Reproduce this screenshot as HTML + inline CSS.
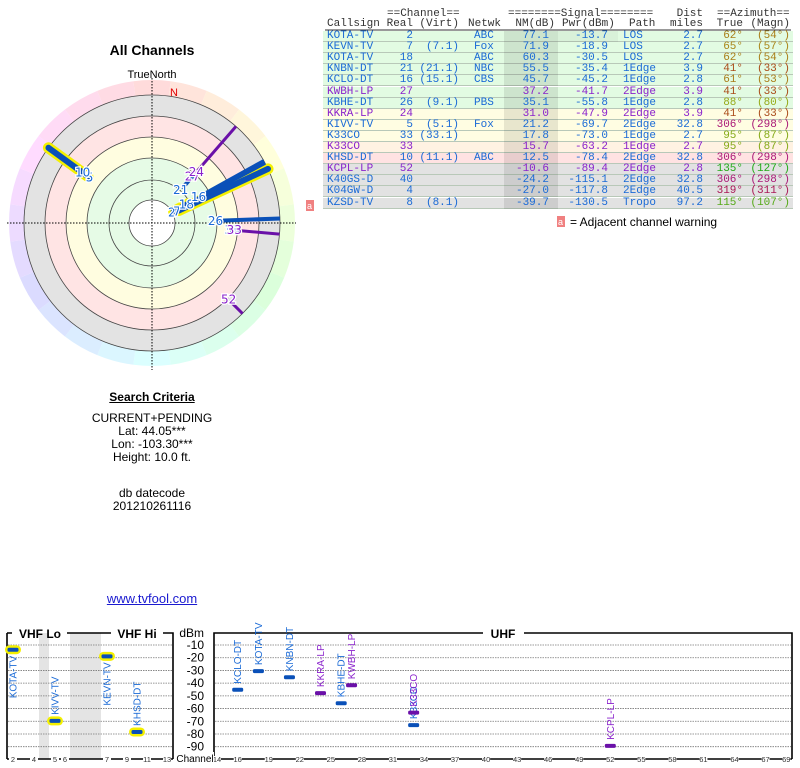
<!DOCTYPE html>
<html><head><meta charset="utf-8"><style>
html,body{margin:0;padding:0;background:#fff;width:800px;height:768px;overflow:hidden;position:relative;font-family:"Liberation Sans",sans-serif}
.abs{position:absolute;white-space:pre}
.ctr{position:absolute;width:300px;left:2px;text-align:center;font-size:12px;color:#000}
.mono{font-family:"Liberation Mono",monospace;font-size:11px}
</style></head><body>
<div class="ctr" style="top:42px;font-size:14px;font-weight:bold">All Channels</div>
<div class="ctr" style="top:390px;font-weight:bold;"><span style="text-decoration:underline">Search Criteria</span></div>
<div class="ctr" style="top:412px;line-height:13px">CURRENT+PENDING<br>Lat: 44.05***<br>Lon: -103.30***<br>Height: 10.0 ft.</div>
<div class="ctr" style="top:487px;line-height:13px">db datecode<br>201210261116</div>
<div class="ctr" style="top:591px;font-size:13px;color:#1a1ad0;"><span style="text-decoration:underline">www.tvfool.com</span></div>

<svg id="gfx" width="800" height="768" style="position:absolute;left:0;top:0" xmlns="http://www.w3.org/2000/svg"></svg>
<div id="tbl"></div>

<script>
const callsigns=["KOTA-TV","KEVN-TV","KOTA-TV","KNBN-DT","KCLO-DT","KWBH-LP","KBHE-DT","KKRA-LP","KIVV-TV","K33CO","K33CO","KHSD-DT","KCPL-LP","K40GS-D","K04GW-D","KZSD-TV"];
const channels=[2,7,18,21,16,27,26,24,5,33,33,10,52,40,4,8];
const virt=["","(7.1)","","(21.1)","(15.1)","","(9.1)","","(5.1)","(33.1)","","(11.1)","","","","(8.1)"];
const netwk=["ABC","Fox","ABC","NBC","CBS","","PBS","","Fox","","","ABC","","","",""];
const nmDb=[77.1,71.9,60.3,55.5,45.7,37.2,35.1,31.0,21.2,17.8,15.7,12.5,-10.6,-24.2,-27.0,-39.7];
const pwrDbm=[-13.7,-18.9,-30.5,-35.4,-45.2,-41.7,-55.8,-47.9,-69.7,-73.0,-63.2,-78.4,-89.4,-115.1,-117.8,-130.5];
const pathType=["LOS","LOS","LOS","1Edge","1Edge","2Edge","1Edge","2Edge","2Edge","1Edge","1Edge","2Edge","2Edge","2Edge","2Edge","Tropo"];
const distMiles=[2.7,2.7,2.7,3.9,2.8,3.9,2.8,3.9,32.8,2.7,2.7,32.8,2.8,32.8,40.5,97.2];
const azTrue=[62,65,62,41,61,41,88,41,306,95,95,306,135,306,319,115];
const azMagn=[54,57,54,33,53,33,80,33,298,87,87,298,127,298,311,107];
const isLP=[0,0,0,0,0,1,0,1,0,0,1,0,1,0,0,0];
const rowBg=["#e2fbe2","#e2fbe2","#e2fbe2","#e2fbe2","#e2fbe2","#e2fbe2","#e2fbe2","#fffde2","#fffde2","#fffde2","#fff2e2","#ffe2e2","#e2e2e2","#e2e2e2","#e2e2e2","#e2e2e2"];
const dbmTicks=[-10,-20,-30,-40,-50,-60,-70,-80,-90];
const vhfTicks=[2,4,5,6,7,9,11,13];
const uhfTicks=[14,16,19,22,25,28,31,34,37,40,43,46,49,52,55,58,61,64,67,69];

const NS="http://www.w3.org/2000/svg";
const svg=document.getElementById('gfx');
function S(tag,attrs,parent){const e=document.createElementNS(NS,tag);for(const k in attrs)e.setAttribute(k,attrs[k]);(parent||svg).appendChild(e);return e;}
const BLUE="#1a6ad6",PURP="#8a22cc",MBLUE="#0a50b8",MPURP="#6a10a8";
function azColor(a){const h=a<=150?a-20:a+15;return `hsl(${h},75%,38%)`;}

/* ---------- table ---------- */
const tbl=document.getElementById('tbl');
function cell(txt,x,y,align,color,name){
  const d=document.createElement('div');
  d.className='abs mono';
  
  
  d.textContent=txt;d.style.top=y+'px';d.style.color=color;d.style.lineHeight='11px';
  if(align==='r'){d.style.left=(x-120)+'px';d.style.width='120px';d.style.textAlign='right';}else d.style.left=x+'px';
  tbl.appendChild(d);return d;
}
const ROW0=31,RH=11.1;
for(let i=0;i<callsigns.length;i++){
  const y=ROW0+i*RH;
  const bg=document.createElement('div');
  
  
  bg.style.cssText=`position:absolute;left:323px;top:${y}px;width:470px;height:${RH-1}px;background:${rowBg[i]};border-bottom:1px solid #b8c8b8`;
  tbl.appendChild(bg);
  const nm=document.createElement('div');
  
  
  nm.style.cssText=`position:absolute;left:504px;top:${y}px;width:54px;height:${RH}px;background:rgba(0,0,0,0.09)`;
  tbl.appendChild(nm);
  if(i===0){const p=document.createElement('div');
    
    
    p.style.cssText=`position:absolute;left:558px;top:${y}px;width:60px;height:${RH}px;background:rgba(0,0,0,0.04)`;tbl.appendChild(p);}
  const c=isLP[i]?PURP:BLUE;const ty=y;
  cell(callsigns[i],327,ty,'l',c,'callsign');
  cell(String(channels[i]),413,ty,'r',c,'real-channel');
  cell(virt[i],459,ty,'r',c,'virtual-channel');
  cell(netwk[i],474,ty,'l',c,'network');
  cell(nmDb[i].toFixed(1),549,ty,'r',c,'nm-db');
  cell(pwrDbm[i].toFixed(1),608,ty,'r',c,'pwr-dbm');
  cell(pathType[i],623,ty,'l',c,'path');
  cell(distMiles[i].toFixed(1),703,ty,'r',c,'distance');
  cell(azTrue[i]+'°',743,ty,'r',azColor(azTrue[i]),'azimuth-true');
  cell('('+azMagn[i]+'°)',790,ty,'r',azColor(azTrue[i]),'azimuth-magn');
}
const hc="#333";
cell("==Channel==",387,9,'l',hc,'header-channel');
cell("========Signal========",508,9,'l',hc,'header-signal');
cell("Dist",703,9,'r',hc,'header-dist');
cell("==Azimuth==",717,9,'l',hc,'header-azimuth');
cell("Callsign",327,19,'l',hc,'header-callsign');
cell("Real",413,19,'r',hc,'header-real');
cell("(Virt)",459,19,'r',hc,'header-virt');
cell("Netwk",468,19,'l',hc,'header-netwk');
cell("NM(dB)",555,19,'r',hc,'header-nm');
cell("Pwr(dBm)",562,19,'l',hc,'header-pwr');
cell("Path",629,19,'l',hc,'header-path');
cell("miles",703,19,'r',hc,'header-miles');
cell("True",743,19,'r',hc,'header-true');
cell("(Magn)",790,19,'r',hc,'header-magn');
S('line',{x1:325,y1:30,x2:791,y2:30,stroke:'#333','stroke-width':1});
S('rect',{x:557,y:216,width:8,height:11,fill:'#f08080',});
S('text',{x:558,y:225,'font-size':9,fill:'#fff','font-family':'Liberation Sans'}).textContent='a';
S('text',{x:570,y:226,'font-size':12,fill:'#000','font-family':'Liberation Sans',}).textContent='= Adjacent channel warning';
S('rect',{x:306,y:200,width:8,height:11,fill:'#f08080',});
S('text',{x:307,y:209,'font-size':9,fill:'#fff','font-family':'Liberation Sans'}).textContent='a';

/* ---------- polar ---------- */
const CX=152,CY=223,RO=143,RE=128;
const pg=S('g',{});
for(let k=0;k<24;k++){
  const a0=(k*15-7.5)*Math.PI/180,a1=(k*15+7.5)*Math.PI/180;
  const p=`M${CX},${CY}L${CX+RO*Math.sin(a0)},${CY-RO*Math.cos(a0)}A${RO},${RO} 0 0 1 ${CX+RO*Math.sin(a1)},${CY-RO*Math.cos(a1)}Z`;
  S('path',{d:p,fill:`hsl(${k*15},100%,93%)`},pg);
}
[[128,'#e3e3e3'],[107,'#ffe4e4'],[86,'#fffde0'],[65,'#e6fbe6'],[43,'#e6fbe6'],[23,'#ffffff']].forEach(([r,f])=>S('circle',{cx:CX,cy:CY,r:r,fill:f,stroke:'#444','stroke-width':0.8,},pg));
S('line',{x1:7,y1:CY,x2:296,y2:CY,stroke:'#000','stroke-dasharray':'1.5,1.5','stroke-width':1},pg);
S('line',{x1:CX,y1:78,x2:CX,y2:370,stroke:'#000','stroke-dasharray':'1.5,1.5','stroke-width':1},pg);
S('text',{x:CX,y:78,'text-anchor':'middle','font-size':11,'font-family':'Liberation Sans',fill:'#000',},pg).textContent='TrueNorth';
S('text',{x:174,y:96,'text-anchor':'middle','font-size':11,'font-family':'Liberation Sans',fill:'#e00000',},pg).textContent='N';
function rOf(nm){return 100-0.98*nm;}
function pt(r,az){const a=az*Math.PI/180;return [CX+r*Math.sin(a),CY-r*Math.cos(a)];}
const MIN_NM=-20;
const rays=[];
for(let i=0;i<callsigns.length;i++){
  if(nmDb[i]<MIN_NM)continue;
  const r0=rOf(nmDb[i]);if(r0>=RE)continue;
  let r1=RE;
  for(let j=0;j<callsigns.length;j++){if(j!==i&&azTrue[j]===azTrue[i]&&nmDb[j]>=MIN_NM){const rj=rOf(nmDb[j]);if(rj>r0&&rj<r1)r1=rj;}}
  rays.push({i,r0,r1});
}
rays.forEach(({i,r0,r1})=>{if(channels[i]<=13){const a=pt(r0,azTrue[i]),b=pt(r1,azTrue[i]);
  const l=S('line',{x1:a[0],y1:a[1],x2:b[0],y2:b[1],stroke:'#f4f000','stroke-width':11,'stroke-linecap':'round'},pg);
  
  }});
rays.forEach(({i,r0,r1})=>{const a=pt(r0,azTrue[i]),b=pt(r1,azTrue[i]);
  const vhf=channels[i]<=13;
  const l=S('line',{x1:a[0],y1:a[1],x2:b[0],y2:b[1],stroke:isLP[i]?MPURP:MBLUE,'stroke-width':vhf?6:(isLP[i]?3:4),'stroke-linecap':vhf?'round':'butt'},pg);
  
  });
rays.forEach(({i,r0})=>{const a=pt(r0-2,azTrue[i]);
  const t=S('text',{x:a[0],y:a[1]+4,'text-anchor':'middle','font-size':12,'font-family':'DejaVu Sans, sans-serif',fill:isLP[i]?PURP:BLUE,stroke:'#fff','stroke-width':2.5,'paint-order':'stroke'},pg);
  t.textContent=channels[i];
  
  });

/* ---------- bottom chart ---------- */
const TOP=633,BOT=759;
function yOf(d){return 632.3-d*1.271;}
const vhfLoX={2:13,3:23.5,4:34,5:55,6:65};
function chX(ch){if(ch<=6)return vhfLoX[ch];if(ch<=13)return 107+(ch-7)*10;return 217+(ch-14)*10.35;}
const bc=S('g',{});
S('rect',{x:39,y:TOP,width:10,height:BOT-TOP,fill:'#e4e4e4',},bc);
S('rect',{x:70,y:TOP,width:31,height:BOT-TOP,fill:'#e4e4e4',},bc);
dbmTicks.forEach(d=>{const y=yOf(d);
  S('line',{x1:8,y1:y,x2:172,y2:y,stroke:'#777','stroke-dasharray':'1.5,1','stroke-width':0.8},bc);
  S('line',{x1:215,y1:y,x2:791,y2:y,stroke:'#777','stroke-dasharray':'1.5,1','stroke-width':0.8},bc);
  const t=S('text',{x:204,y:y+4,'text-anchor':'end','font-size':12,'font-family':'Liberation Sans',fill:'#000'},bc);t.textContent=d;
  
  });
S('text',{x:204,y:637,'text-anchor':'end','font-size':12,'font-family':'Liberation Sans',fill:'#000',},bc).textContent='dBm';
S('path',{d:`M7,${TOP}H12M67,${TOP}H111M163,${TOP}H173V${BOT}M7,${TOP}V${BOT}`,stroke:'#000','stroke-width':1.6,fill:'none'},bc);
S('path',{d:`M214,${BOT}V${TOP}H483M524,${TOP}H792V${BOT}`,stroke:'#000','stroke-width':1.6,fill:'none'},bc);
S('text',{x:40,y:638,'text-anchor':'middle','font-size':12,'font-weight':'bold','font-family':'Liberation Sans',},bc).textContent='VHF Lo';
S('text',{x:137,y:638,'text-anchor':'middle','font-size':12,'font-weight':'bold','font-family':'Liberation Sans',},bc).textContent='VHF Hi';
S('text',{x:503,y:638,'text-anchor':'middle','font-size':12,'font-weight':'bold','font-family':'Liberation Sans',},bc).textContent='UHF';
S('line',{x1:7,y1:BOT,x2:173,y2:BOT,stroke:'#000','stroke-width':1.4},bc);
S('line',{x1:214,y1:BOT,x2:792,y2:BOT,stroke:'#000','stroke-width':1.4},bc);
vhfTicks.concat(uhfTicks).forEach(ch=>{const x=chX(ch);
  S('rect',{x:x-4,y:BOT-3,width:8,height:6,fill:'#fff'},bc);
  const t=S('text',{x:x,y:BOT+3,'text-anchor':'middle','font-size':7.5,'font-family':'Liberation Sans',fill:'#333'},bc);t.textContent=ch;
  
  });
S('rect',{x:176,y:752,width:38,height:12,fill:'#fff'},bc);
S('text',{x:195,y:762,'text-anchor':'middle','font-size':10,'font-family':'Liberation Sans',fill:'#000',},bc).textContent='Channel';
for(let i=0;i<callsigns.length;i++){
  if(pwrDbm[i]<-95)continue;
  const x=chX(channels[i]),y=yOf(pwrDbm[i]);
  if(channels[i]<=13){const e=S('rect',{x:x-8,y:y-4.5,width:16,height:9,rx:4.5,fill:'#f4f000'},bc);
    
    }
  const m=S('rect',{x:x-5.5,y:y-2,width:11,height:4,rx:1.5,fill:isLP[i]?MPURP:MBLUE},bc);
  
  
  const above=pwrDbm[i]<-20;
  const ly=above?y-6:y+6;
  const t=S('text',{x:0,y:0,'text-anchor':above?'start':'end','font-size':10,'font-family':'Liberation Sans',fill:isLP[i]?PURP:BLUE,transform:`translate(${x+3.5},${ly}) rotate(-90)`},bc);
  t.textContent=callsigns[i];
  
  
}
</script>
</body></html>
